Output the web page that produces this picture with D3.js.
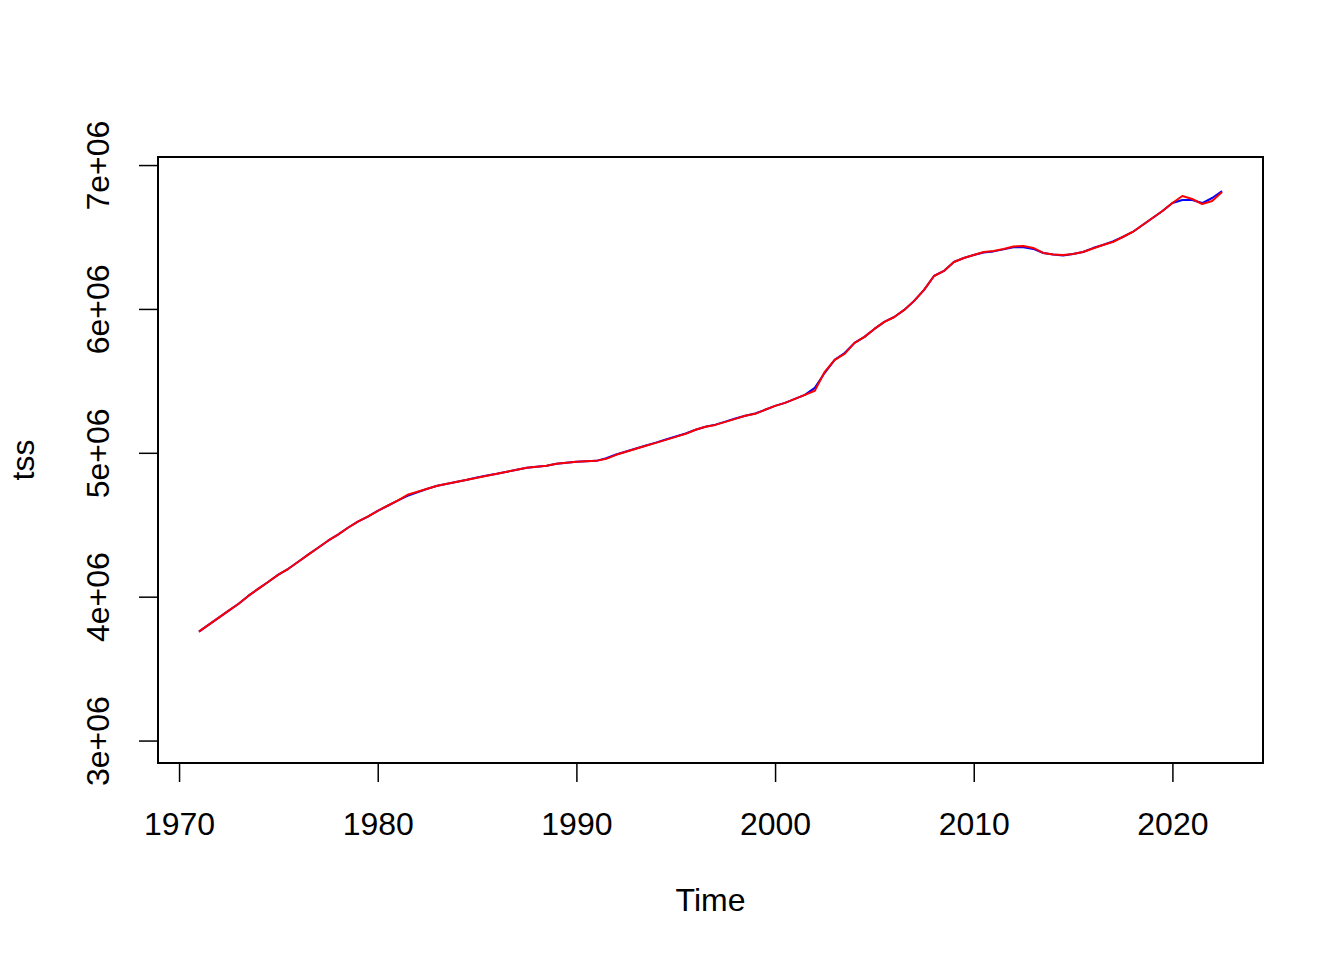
<!DOCTYPE html>
<html>
<head>
<meta charset="utf-8">
<script src="https://cdn.jsdelivr.net/npm/d3@7"></script>
<style>
  html, body { margin: 0; padding: 0; background: #ffffff; }
  svg text { font-family: "Liberation Sans", Arial, Helvetica, sans-serif; fill: #000; }
</style>
</head>
<body>
<svg id="chart" width="1344" height="960"></svg>
<script>
// Semiannual series, 1971.0 .. 2022.5 (step 0.5)
const startYear = 1971;
const step = 0.5;
const xTicks = [1970, 1980, 1990, 2000, 2010, 2020];
const yTicks = [3e6, 4e6, 5e6, 6e6, 7e6];
const yTickLabels = ["3e+06", "4e+06", "5e+06", "6e+06", "7e+06"];

// values in thousands
const blueSeries = [
  3757, 3806, 3854, 3903, 3951, 4007, 4056, 4104, 4153, 4194,
  4243, 4292, 4340, 4389, 4431, 4479, 4521, 4556, 4597, 4632,
  4667, 4701, 4726, 4750, 4771, 4785, 4799, 4813, 4829, 4842,
  4854, 4868, 4882, 4896, 4903, 4910, 4924, 4931, 4938, 4941,
  4944, 4962, 4988, 5009, 5030, 5051, 5071, 5092, 5113, 5134,
  5160, 5181, 5196, 5217, 5238, 5257, 5273, 5299, 5326, 5347,
  5375, 5403, 5451, 5556, 5646, 5694, 5764, 5806, 5861, 5910,
  5944, 5993, 6056, 6132, 6229, 6264, 6326, 6354, 6375, 6392,
  6400, 6414, 6428, 6428, 6417, 6389, 6378, 6372, 6382, 6396,
  6423, 6444, 6469, 6500, 6535, 6583, 6632, 6681, 6736, 6757,
  6757, 6736, 6771, 6819
];
const redSeries = [
  3757, 3806, 3854, 3903, 3951, 4007, 4056, 4104, 4153, 4194,
  4243, 4292, 4340, 4389, 4431, 4479, 4521, 4556, 4597, 4632,
  4667, 4708, 4729, 4750, 4771, 4785, 4799, 4813, 4826, 4840,
  4854, 4868, 4882, 4896, 4903, 4910, 4924, 4931, 4938, 4941,
  4944, 4958, 4986, 5007, 5028, 5049, 5069, 5090, 5111, 5132,
  5160, 5181, 5194, 5215, 5236, 5257, 5271, 5299, 5326, 5347,
  5375, 5403, 5431, 5563, 5646, 5688, 5764, 5806, 5861, 5910,
  5944, 5993, 6056, 6132, 6229, 6264, 6326, 6354, 6375, 6396,
  6403, 6417, 6434, 6438, 6424, 6389, 6378, 6375, 6382, 6396,
  6420, 6444, 6465, 6500, 6535, 6583, 6632, 6681, 6736, 6785,
  6764, 6729, 6750, 6813
];

const svg = d3.select("#chart");
const plot = { left: 158, right: 1263, top: 157, bottom: 763 };
const FONT = 32;

const years = blueSeries.map((_, i) => startYear + i * step);
const xData = d3.extent(years);
const xPad = (xData[1] - xData[0]) * 0.04;
const x = d3.scaleLinear().domain([xData[0] - xPad, xData[1] + xPad]).range([plot.left, plot.right]);
const yLim = [3e6, 6.9e6];
const yPad = (yLim[1] - yLim[0]) * 0.04;
const y = d3.scaleLinear().domain([yLim[0] - yPad, yLim[1] + yPad]).range([plot.bottom, plot.top]);

// series lines
const line = d3.line().x((d, i) => x(years[i])).y(d => y(d * 1000));
svg.append("path").datum(blueSeries).attr("d", line)
  .attr("fill", "none").attr("stroke", "#0000FF").attr("stroke-width", 2).attr("stroke-linejoin", "round");
svg.append("path").datum(redSeries).attr("d", line)
  .attr("fill", "none").attr("stroke", "#FF0000").attr("stroke-width", 2).attr("stroke-linejoin", "round");

// box
svg.append("rect").attr("x", plot.left).attr("y", plot.top)
  .attr("width", plot.right - plot.left).attr("height", plot.bottom - plot.top)
  .attr("fill", "none").attr("stroke", "#000").attr("stroke-width", 2);

// x axis
const xAxis = d3.axisBottom(x).tickValues(xTicks).tickFormat(d3.format("d")).tickSize(19).tickPadding(0);
const gx = svg.append("g").attr("transform", `translate(0,${plot.bottom})`).call(xAxis);
gx.select(".domain").remove();
gx.selectAll(".tick line").attr("stroke", "#000").attr("stroke-width", 1.5);
gx.selectAll(".tick text").attr("font-size", FONT).attr("dy", null).attr("y", 72);

// y axis
const yAxis = d3.axisLeft(y).tickValues(yTicks).tickFormat((d, i) => yTickLabels[i]).tickSize(19);
const gy = svg.append("g").attr("transform", `translate(${plot.left},0)`).call(yAxis);
gy.select(".domain").remove();
gy.selectAll(".tick line").attr("stroke", "#000").attr("stroke-width", 1.5);
gy.selectAll(".tick text")
  .attr("font-size", FONT)
  .attr("x", null).attr("dy", null)
  .attr("text-anchor", "middle")
  .attr("transform", "translate(-49,0) rotate(-90)");

// axis titles
svg.append("text").attr("x", (plot.left + plot.right) / 2).attr("y", 911)
  .attr("text-anchor", "middle").attr("font-size", FONT).text("Time");
svg.append("text").attr("transform", `translate(34,${(plot.top + plot.bottom) / 2}) rotate(-90)`)
  .attr("text-anchor", "middle").attr("font-size", FONT).text("tss");
</script>
</body>
</html>
